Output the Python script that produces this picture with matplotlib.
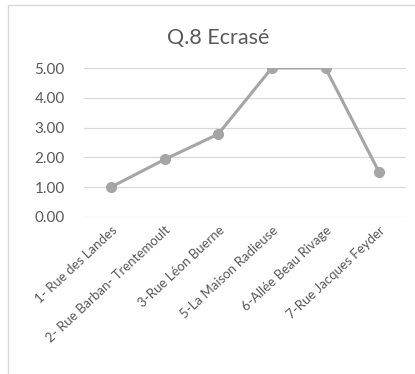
import matplotlib
matplotlib.use("Agg")
from matplotlib import pyplot as plt

categories = ["1- Rue des Landes", "2- Rue Barban- Trentemoult", "3-Rue Léon Buerne",
              "5-La Maison Radieuse", "6-Allée Beau Rivage", "7-Rue Jacques Feyder"]
values = [1.0, 1.93, 2.78, 5.0, 5.0, 1.5]
yticks = [0, 1, 2, 3, 4, 5]

TEXT = "#595959"
LINE = "#A5A5A5"
GRID = "#D9D9D9"

plt.rcParams['font.family'] = ['Lato', 'DejaVu Sans']

fig = plt.figure(figsize=(4.15, 3.74), dpi=100)
# chart border like an office chart object
fig.patches.append(plt.Rectangle((8 / 415, -0.05), 1.2, 1 - 5 / 374 + 0.05, transform=fig.transFigure,
                                 fill=False, edgecolor=GRID, linewidth=1.0))

ax = fig.add_axes([84 / 415, 1 - 217 / 374, (406 - 84) / 415, (217 - 68) / 374])
x = list(range(len(categories)))
ax.plot(x, values, color=LINE, linewidth=2.2, marker="o", markersize=7, zorder=3)

ax.set_xlim(-0.5, len(categories) - 0.5)
ax.set_ylim(0, 5)
ax.set_yticks(yticks)
ax.set_yticklabels([f"{v:.2f}" for v in yticks], fontsize=11, color=TEXT)
ax.set_xticks(x)
ax.set_xticklabels(categories, rotation=43, ha="right", rotation_mode="anchor",
                   fontsize=9.5, color=TEXT)
ax.tick_params(axis="both", length=0)
ax.tick_params(axis="y", pad=14)
ax.tick_params(axis="x", pad=5)
ax.grid(axis="y", color=GRID, linewidth=0.9)
ax.set_axisbelow(True)
for s in ax.spines.values():
    s.set_visible(False)

fig.text(218 / 415, 1 - 38 / 374, "Q.8 Ecrasé", ha="center", va="center", fontsize=15.5, color=TEXT)

fig.savefig("out.png", dpi=100)
